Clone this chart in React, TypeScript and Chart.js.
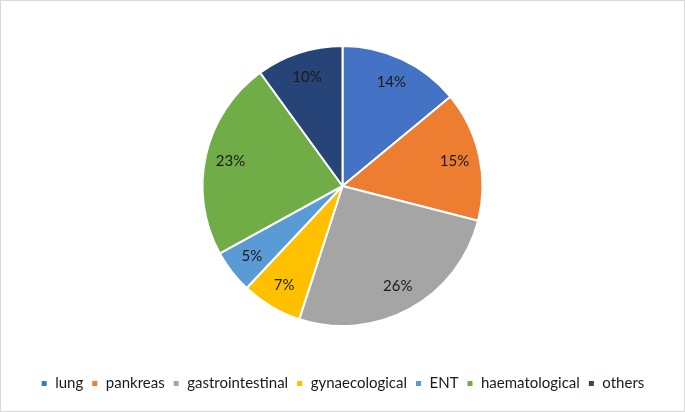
import React, { useEffect, useRef } from "react";
import { Chart, registerables } from "chart.js";

Chart.register(...registerables);

const categories = ["lung", "pankreas", "gastrointestinal", "gynaecological", "ENT", "haematological", "others"];
const values = [14, 15, 26, 7, 5, 23, 10];
const colors = ["#4472C4", "#ED7D31", "#A5A5A5", "#FFC000", "#5B9BD5", "#70AD47", "#264478"];

const FONT = "Lato, 'Open Sans', sans-serif";

const labelPlugin = {
  id: "pctLabels",
  afterDatasetsDraw(chart: any) {
    const { ctx } = chart;
    const meta = chart.getDatasetMeta(0);
    const total = values.reduce((a, b) => a + b, 0);
    ctx.save();
    ctx.font = `15px ${FONT}`;
    ctx.fillStyle = "#1a1a1a";
    ctx.textAlign = "center";
    ctx.textBaseline = "middle";
    meta.data.forEach((arc: any, i: number) => {
      const { x, y, startAngle, endAngle, outerRadius } = arc.getProps(["x", "y", "startAngle", "endAngle", "outerRadius"], true);
      const mid = (startAngle + endAngle) / 2;
      const r = outerRadius * 0.82;
      const pct = Math.round((values[i] / total) * 100) + "%";
      ctx.fillText(pct, x + Math.cos(mid) * r, y + Math.sin(mid) * r);
    });
    ctx.restore();
  },
};

export default function App() {
  const ref = useRef<HTMLCanvasElement>(null);
  useEffect(() => {
    if (!ref.current) return;
    const chart = new Chart(ref.current, {
      type: "pie",
      data: {
        labels: categories,
        datasets: [
          {
            data: values,
            backgroundColor: colors,
            borderColor: "#ffffff",
            borderWidth: 2,
            radius: 140,
          },
        ],
      },
      options: {
        animation: false,
        responsive: false,
        layout: { padding: { top: 4, bottom: 11, left: 0, right: 0 } },
        plugins: {
          tooltip: { enabled: false },
          legend: {
            position: "bottom",
            labels: {
              boxWidth: 7,
              boxHeight: 7,
              padding: 8,
              color: "#1a1a1a",
              font: { family: FONT, size: 15 },
            },
          },
        },
      },
      plugins: [labelPlugin],
    });
    return () => chart.destroy();
  }, []);
  return (
    <div style={{ position: "fixed", left: 0, top: 0, width: 685, height: 412, background: "#fff" }}>
      <canvas
        ref={ref}
        width={685}
        height={412}
        style={{ position: "absolute", left: 0, top: 0, width: 685, height: 412 }}
      />
      <div
        style={{
          position: "absolute",
          left: 0,
          top: 0,
          width: 685,
          height: 412,
          boxSizing: "border-box",
          border: "1px solid #d9d9d9",
          pointerEvents: "none",
        }}
      />
    </div>
  );
}
